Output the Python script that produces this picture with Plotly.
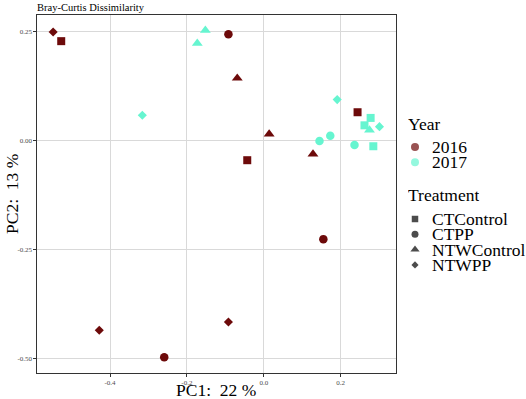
import plotly.graph_objects as go

# ---------------- data ----------------
years = ["2016", "2017"]
treatments = ["CTControl", "CTPP", "NTWControl", "NTWPP"]

# PC1 / PC2 coordinates per (year, treatment)
pc1_2016 = {
    "CTControl": [-0.527, 0.244, -0.043],
    "CTPP": [-0.092, -0.259, 0.155],
    "NTWControl": [-0.069, 0.014, 0.128],
    "NTWPP": [-0.548, -0.428, -0.092],
}
pc2_2016 = {
    "CTControl": [0.227, 0.064, -0.046],
    "CTPP": [0.243, -0.498, -0.227],
    "NTWControl": [0.142, 0.014, -0.032],
    "NTWPP": [0.248, -0.436, -0.417],
}
pc1_2017 = {
    "CTControl": [0.278, 0.262, 0.285],
    "CTPP": [0.173, 0.145, 0.236],
    "NTWControl": [-0.173, -0.152, 0.275],
    "NTWPP": [-0.316, 0.191, 0.301],
}
pc2_2017 = {
    "CTControl": [0.051, 0.034, -0.014],
    "CTPP": [0.010, -0.002, -0.011],
    "NTWControl": [0.222, 0.252, 0.023],
    "NTWPP": [0.057, 0.093, 0.031],
}

x_tick_vals = [-0.4, -0.2, 0.0, 0.2]
x_tick_text = ["-0.4", "-0.2", "0.0", "0.2"]
y_tick_vals = [0.25, 0.0, -0.25, -0.5]
y_tick_text = ["0.25", "0.00", "-0.25", "-0.50"]

# ---------------- styles ----------------
FONT = "Liberation Serif"
year_colors = {"2016": "#6d0a0a", "2017": "#66f5d0"}
symbols = {"CTControl": "square", "CTPP": "circle",
           "NTWControl": "triangle-up", "NTWPP": "diamond"}
sizes = {"CTControl": 8, "CTPP": 8.5, "NTWControl": 9.5, "NTWPP": 7}

W, H = 526, 399
ML, MT, MB = 37, 15, 26
PANEL_R = 396  # right edge of panel in pixels
plot_w = W - ML
plot_h = H - MT - MB
main_dom = (PANEL_R - ML) / plot_w

fig = go.Figure()

data = {"2016": (pc1_2016, pc2_2016), "2017": (pc1_2017, pc2_2017)}
for yr in years:
    xs_d, ys_d = data[yr]
    for tr in treatments:
        fig.add_trace(go.Scatter(
            x=xs_d[tr], y=ys_d[tr], mode="markers",
            marker=dict(symbol=symbols[tr], size=sizes[tr], color=year_colors[yr],
                        line=dict(width=0)),
            showlegend=False, name=f"{yr} {tr}",
        ))

# ---------------- manual legend (ggplot style) ----------------
leg_x_key = 415
leg_x_txt = 430
year_title_y = 124
year_item_y0 = 147
treat_title_y = 195
treat_item_y0 = 219
step = 15.3
LEG_FS = 17.5

key_x, key_y, key_sym, key_col, key_size = [], [], [], [], []
for i, yr in enumerate(years):
    key_x.append(leg_x_key)
    key_y.append(year_item_y0 + i * step)
    key_sym.append("circle")
    key_col.append(year_colors[yr])
    key_size.append(8)
for i, tr in enumerate(treatments):
    key_x.append(leg_x_key)
    key_y.append(treat_item_y0 + i * step)
    key_sym.append(symbols[tr])
    key_col.append("black")
    key_size.append(sizes[tr] - 1.5)

fig.add_trace(go.Scatter(
    x=key_x, y=key_y, mode="markers", xaxis="x2", yaxis="y2",
    marker=dict(symbol=key_sym, color=key_col, size=key_size, line=dict(width=0)),
    showlegend=False, hoverinfo="skip", cliponaxis=False,
))

annotations = []
def txt(x, y, s, size=LEG_FS):
    annotations.append(dict(x=x, y=y, xref="x2", yref="y2", text=s, showarrow=False,
                            xanchor="left", yanchor="middle", height=14,
                            font=dict(family=FONT, size=size, color="black")))

txt(406, year_title_y, "Year")
for i, yr in enumerate(years):
    txt(leg_x_txt, year_item_y0 + i * step, yr)
txt(406, treat_title_y, "Treatment")
for i, tr in enumerate(treatments):
    txt(leg_x_txt, treat_item_y0 + i * step, tr)

def px_to_paper(xp, yp):
    return (xp - ML) / plot_w, 1 - (yp - MT) / plot_h

ax_x, ax_y = px_to_paper(216, 390)
annotations.append(dict(x=ax_x, y=ax_y, xref="paper", yref="paper", text="PC1:  22 %",
                        showarrow=False, xanchor="center", yanchor="middle",
                        font=dict(family=FONT, size=17.5, color="black")))
ay_x, ay_y = px_to_paper(12, 194)
annotations.append(dict(x=ay_x, y=ay_y, xref="paper", yref="paper", text="PC2:  13 %",
                        showarrow=False, xanchor="center", yanchor="middle", textangle=-90,
                        font=dict(family=FONT, size=17.5, color="black")))

axis_common = dict(
    tickmode="array", ticks="outside", ticklen=2.5, tickwidth=1, tickcolor="#333333",
    tickfont=dict(family=FONT, size=7, color="#4d4d4d"),
    showgrid=True, gridcolor="#d9d9d9", gridwidth=1.1,
    zeroline=False, showline=True, linecolor="#333333", linewidth=1.2, mirror=True,
    automargin=False,
)

fig.update_layout(
    width=W, height=H,
    margin=dict(l=ML, r=0, t=MT, b=MB, pad=0, autoexpand=False),
    paper_bgcolor="white", plot_bgcolor="white",
    font=dict(family=FONT, color="black"),
    showlegend=False,
    title=dict(text="Bray-Curtis Dissimilarity", x=ML / W, xanchor="left",
               y=1 - 7 / H, yanchor="middle", xref="container", yref="container",
               font=dict(family=FONT, size=10.5, color="black"), automargin=False),
    xaxis=dict(domain=[0, main_dom], range=[-0.590, 0.344],
               tickvals=x_tick_vals, ticktext=x_tick_text, **axis_common),
    yaxis=dict(range=[-0.534, 0.287],
               tickvals=y_tick_vals, ticktext=y_tick_text, **axis_common),
    xaxis2=dict(domain=[main_dom, 1], range=[PANEL_R, W], visible=False, fixedrange=True),
    yaxis2=dict(domain=[0, 1], range=[H - MB, MT], visible=False, fixedrange=True,
                anchor="x2"),
    annotations=annotations,
)

fig.write_html("out.html", config={"displayModeBar": False},
               post_script="document.body.style.margin='0';document.body.style.overflow='hidden';")
